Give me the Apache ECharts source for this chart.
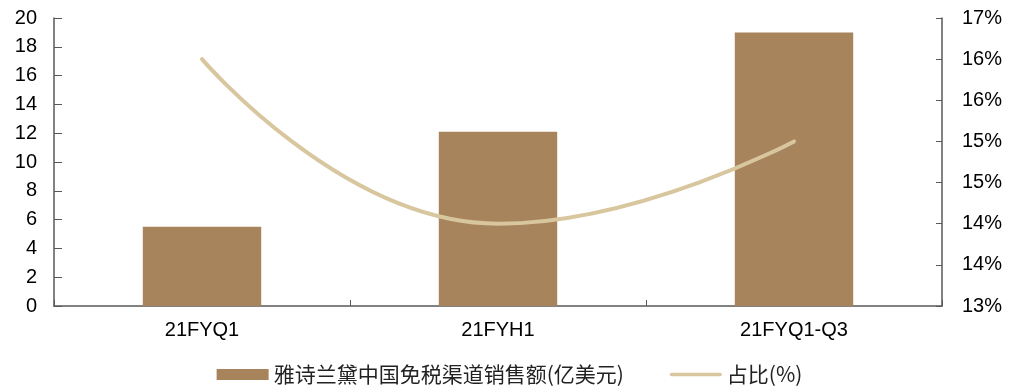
<!DOCTYPE html>
<html>
<head>
<meta charset="utf-8">
<script src="https://cdn.jsdelivr.net/npm/echarts@6/dist/echarts.min.js"></script>
<style>
  html, body { margin: 0; padding: 0; background: #fff; }
  #chart { width: 1019px; height: 392px; }
</style>
</head>
<body>
<div id="chart"></div>
<script>
// Categories and series values
const categories = ['21FYQ1', '21FYH1', '21FYQ1-Q3'];
const salesName = '雅诗兰黛中国免税渠道销售额(亿美元)';
const shareName = '占比(%)';
const salesValues = [5.5, 12.1, 19.0];   // 亿美元
const shareValues = [16.0, 14.0, 15.0];  // %

const axisColor = '#595959';
const textColor = '#000000';
const numFont = 'Liberation Sans, Arial, sans-serif';
const barColor = '#A7845C';
const lineColor = '#D8C69E';

const chart = echarts.init(document.getElementById('chart'));
chart.setOption({
  animation: false,
  backgroundColor: '#ffffff',
  grid: { left: 54, right: 77, top: 18, bottom: 86 },
  legend: {
    bottom: 2,
    left: 'center',
    itemWidth: 52,
    itemHeight: 11,
    itemGap: 46,
    textStyle: { fontFamily: 'Noto Sans CJK SC', fontSize: 21, color: '#222' },
    data: [
      { name: salesName, icon: 'rect', itemStyle: { color: barColor } },
      { name: shareName, icon: 'path://M2,0 L54,0 A2,2 0 0 1 54,4 L2,4 A2,2 0 0 1 2,0 Z', itemStyle: { color: lineColor } }
    ]
  },
  xAxis: {
    type: 'category',
    data: categories,
    axisLine: { lineStyle: { color: axisColor, width: 1.5 } },
    axisTick: { show: true, inside: true, length: 6, lineStyle: { color: axisColor } },
    axisLabel: { color: textColor, fontFamily: numFont, fontSize: 20, margin: 14 },
    splitLine: { show: false }
  },
  yAxis: [
    {
      type: 'value',
      min: 0, max: 20, interval: 2,
      axisLine: { show: true, lineStyle: { color: axisColor, width: 1.5 } },
      axisTick: { show: true, inside: true, length: 8, lineStyle: { color: axisColor } },
      axisLabel: { color: textColor, fontFamily: numFont, fontSize: 20, margin: 17 },
      splitLine: { show: false }
    },
    {
      type: 'value',
      min: 13, max: 16.5, interval: 0.5,
      position: 'right',
      axisLine: { show: true, lineStyle: { color: axisColor, width: 1.5 } },
      axisTick: { show: true, inside: true, length: 6, lineStyle: { color: axisColor } },
      axisLabel: {
        color: textColor, fontFamily: numFont, fontSize: 20, margin: 20,
        formatter: v => Math.round(v) + '%'
      },
      splitLine: { show: false }
    }
  ],
  series: [
    {
      name: salesName,
      type: 'bar',
      data: salesValues,
      barWidth: '40%',
      itemStyle: { color: barColor }
    },
    {
      name: shareName,
      type: 'line',
      yAxisIndex: 1,
      data: shareValues,
      smooth: 0.5,
      symbol: 'none',
      lineStyle: { color: lineColor, width: 4, cap: 'round' },
      itemStyle: { color: lineColor }
    }
  ]
});
</script>
</body>
</html>
